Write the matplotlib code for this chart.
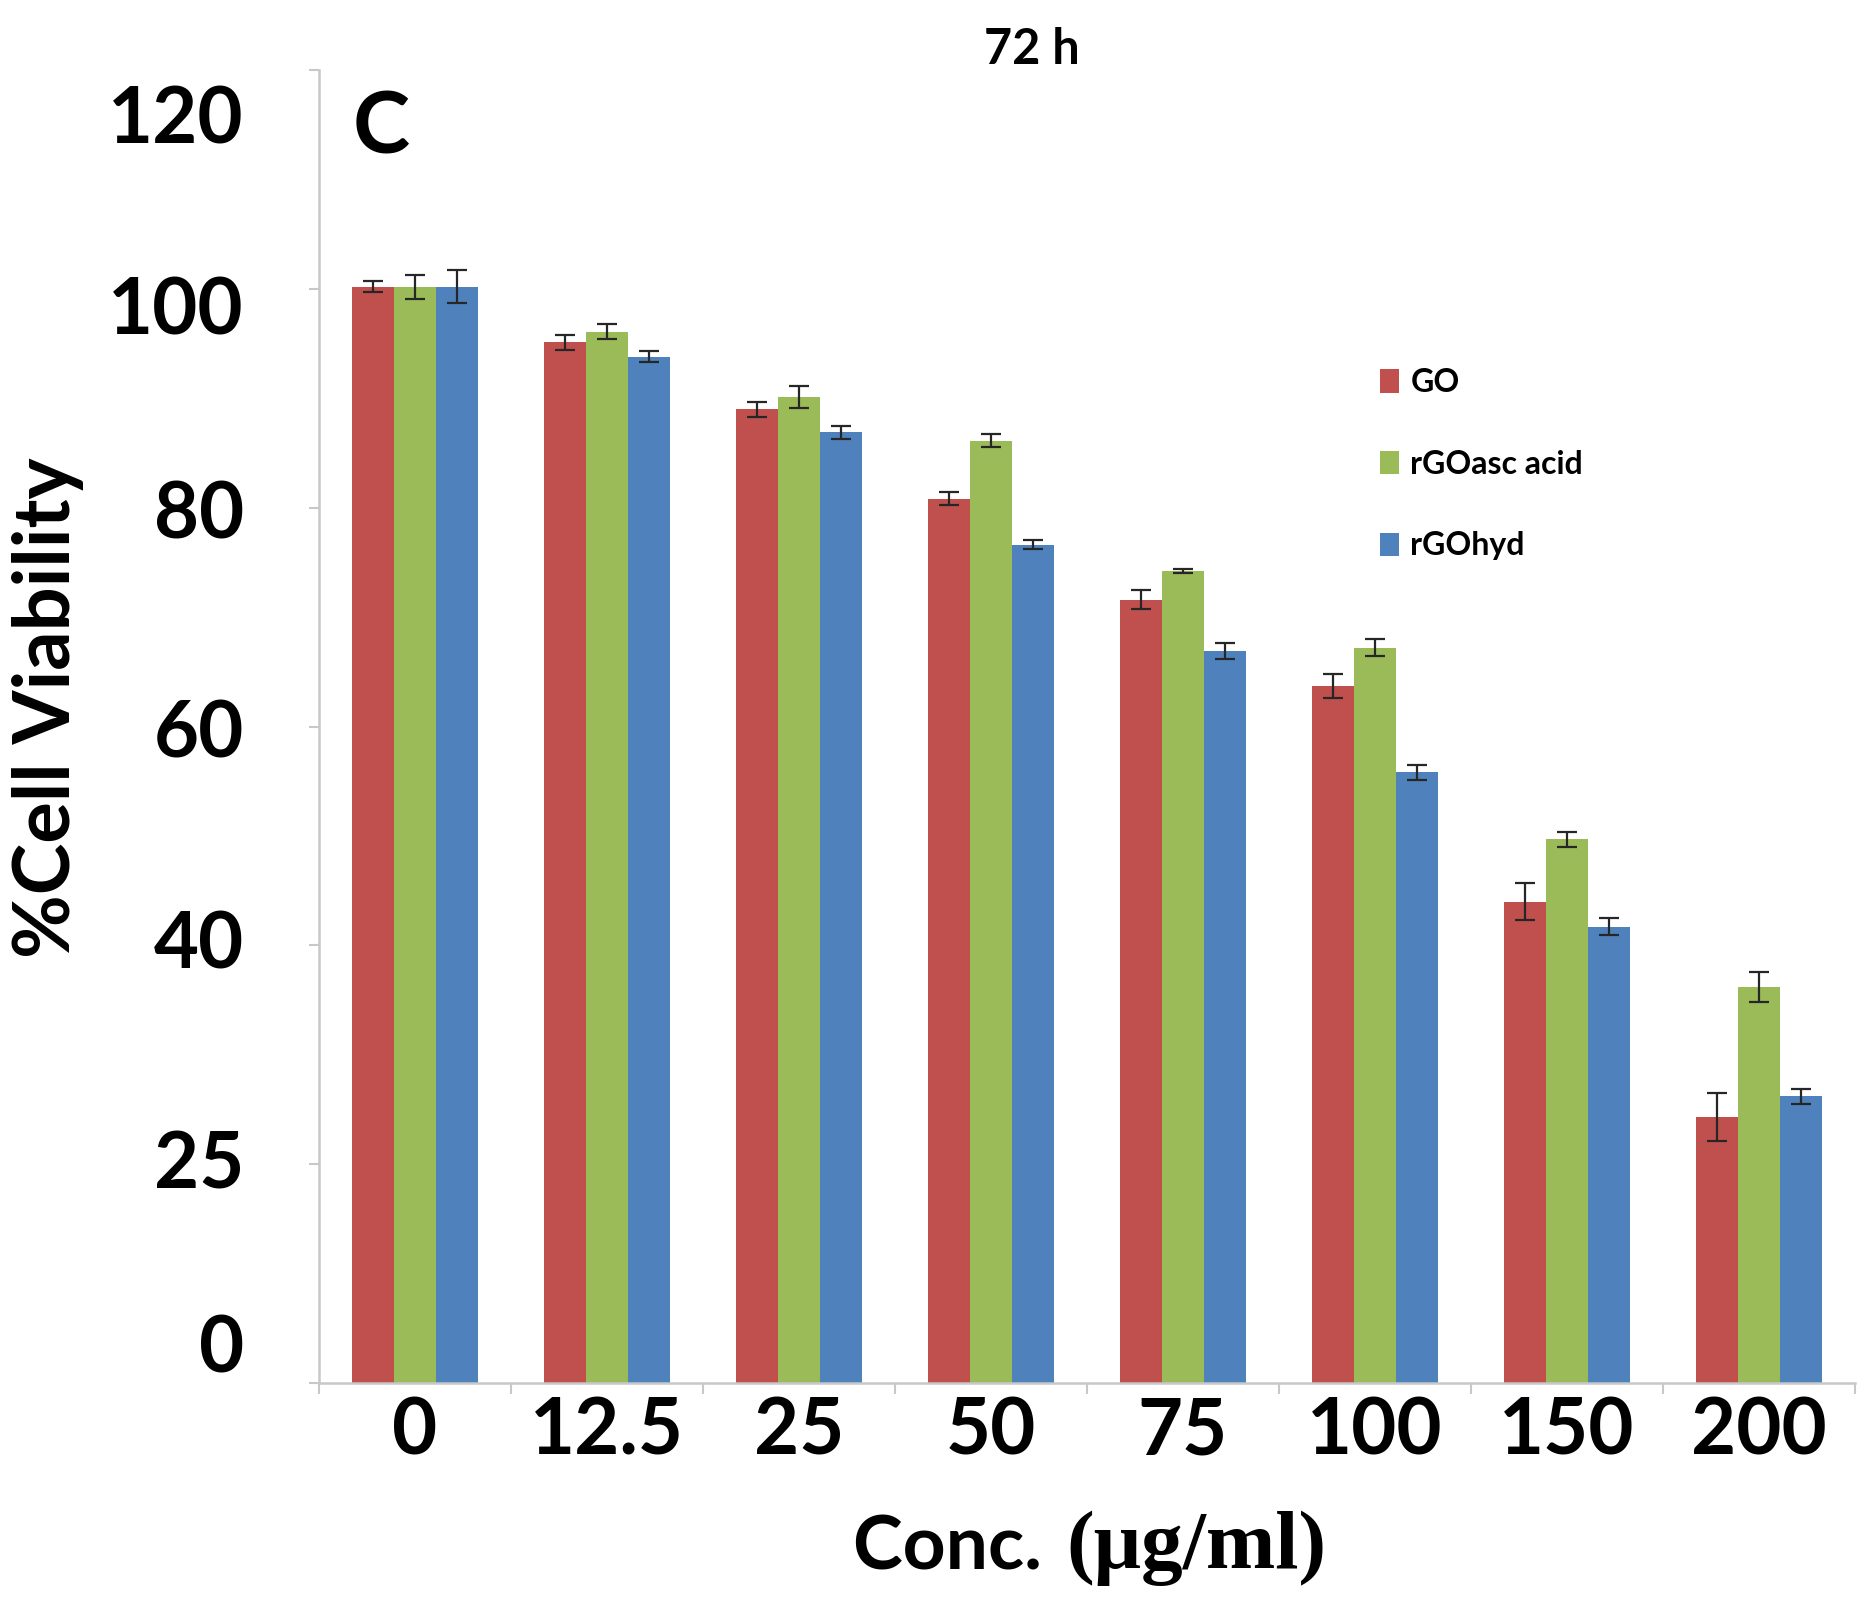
import numpy as np
import matplotlib
matplotlib.use("Agg")
import matplotlib.pyplot as plt
from matplotlib.ticker import FixedLocator, NullFormatter

# ---- data ----
categories = ["0", "12.5", "25", "50", "75", "100", "150", "200"]
series_names = ["GO", "rGOasc acid", "rGOhyd"]
go_vals = [100.2, 95.1, 89.0, 80.8, 71.6, 63.7, 44.0, 24.3]
go_err = [0.5, 0.7, 0.7, 0.6, 0.9, 1.1, 1.7, 2.2]
asc_vals = [100.2, 96.1, 90.1, 86.1, 74.2, 67.2, 49.7, 36.2]
asc_err = [1.1, 0.7, 1.0, 0.6, 0.2, 0.8, 0.7, 1.4]
hyd_vals = [100.2, 93.8, 86.9, 76.6, 66.9, 55.8, 41.7, 26.2]
hyd_err = [1.5, 0.5, 0.6, 0.4, 0.7, 0.7, 0.8, 0.7]
ytick_labels = ["0", "25", "40", "60", "80", "100", "120"]
ytick_label_pos = [3.6, 20.4, 40.5, 59.8, 79.8, 98.5, 115.9]
ytick_marks = [0, 20, 40, 60, 80, 100, 120]

colors = ["#C0504D", "#9BBB59", "#4F81BD"]
SANS = ["Lato", "DejaVu Sans"]
SERIF = ["Liberation Serif", "DejaVu Serif"]

W, H = 1874, 1601
AX_L, AX_R, AX_T, AX_B = 319, 1855, 70, 1383
fig = plt.figure(figsize=(W / 100, H / 100), dpi=100)
ax = fig.add_axes([AX_L / W, (H - AX_B) / H, (AX_R - AX_L) / W, (AX_B - AX_T) / H])

x = np.arange(len(categories))
bw = 0.219
offsets = [-bw, 0, bw]
all_vals = [go_vals, asc_vals, hyd_vals]
all_err = [go_err, asc_err, hyd_err]
for name, vals, err, off, c in zip(series_names, all_vals, all_err, offsets, colors):
    ax.bar(x + off, vals, width=bw, color=c, label=name, yerr=err, capsize=7,
           error_kw=dict(ecolor="#262626", elinewidth=1.6, capthick=1.6), zorder=2)

ax.set_xlim(-0.5, len(categories) - 0.5)
ax.set_ylim(0, 120)

for s in ["top", "right"]:
    ax.spines[s].set_visible(False)
for s in ["left", "bottom"]:
    ax.spines[s].set_color("#C8C8C8")
    ax.spines[s].set_linewidth(1.8)

# y ticks
ax.yaxis.remove_overlapping_locs = False
ax.yaxis.set_major_locator(FixedLocator(ytick_marks))
ax.yaxis.set_major_formatter(NullFormatter())
ax.tick_params(axis="y", which="major", length=7, width=1.5, color="#C8C8C8", direction="out")
ax.set_yticks(ytick_label_pos, ytick_labels, minor=True)
ax.tick_params(axis="y", which="minor", length=0, pad=54)
for t in ax.get_yticklabels(minor=True):
    t.set_fontfamily(SANS)
    t.set_fontweight("bold")
    t.set_fontsize(56)

# x ticks
ax.set_xticks(x, categories)
ax.tick_params(axis="x", which="major", length=0, pad=10)
ax.set_xticks(np.arange(len(categories) + 1) - 0.5, minor=True)
ax.tick_params(axis="x", which="minor", length=8, width=1.5, color="#C8C8C8", direction="out")
for t in ax.get_xticklabels():
    t.set_fontfamily(SANS)
    t.set_fontweight("bold")
    t.set_fontsize(56)

# axis labels
fig.text(48 / W, 1 - 708 / H, "%Cell Viability", rotation=90, ha="center", va="center",
         fontsize=56, fontweight="bold", family=SANS)
fig.text(1060 / W, 1 - 1548 / H, "Conc. ", ha="right", va="center",
         fontsize=54, fontweight="bold", family=SANS)
fig.text(1066 / W, 1 - 1548 / H, "(\u03bcg/ml)", ha="left", va="center",
         fontsize=60, fontweight="bold", family=SERIF)

# panel label and title
fig.text(381 / W, 1 - 129 / H, "C", ha="center", va="center",
         fontsize=62, fontweight="bold", family=SANS)
fig.text(1032 / W, 1 - 50 / H, "72 h", ha="center", va="center",
         fontsize=35, fontweight="bold", family=SANS)

# legend
leg = ax.legend(loc="upper left", bbox_to_anchor=(1380 / W, 1 - 368 / H),
                bbox_transform=fig.transFigure, frameon=False, borderpad=0,
                borderaxespad=0, handlelength=0.6, handleheight=0.75,
                handletextpad=0.35, labelspacing=1.65,
                prop=dict(family=SANS, weight="bold", size=23))

fig.savefig("out.png", dpi=100, facecolor="white")
